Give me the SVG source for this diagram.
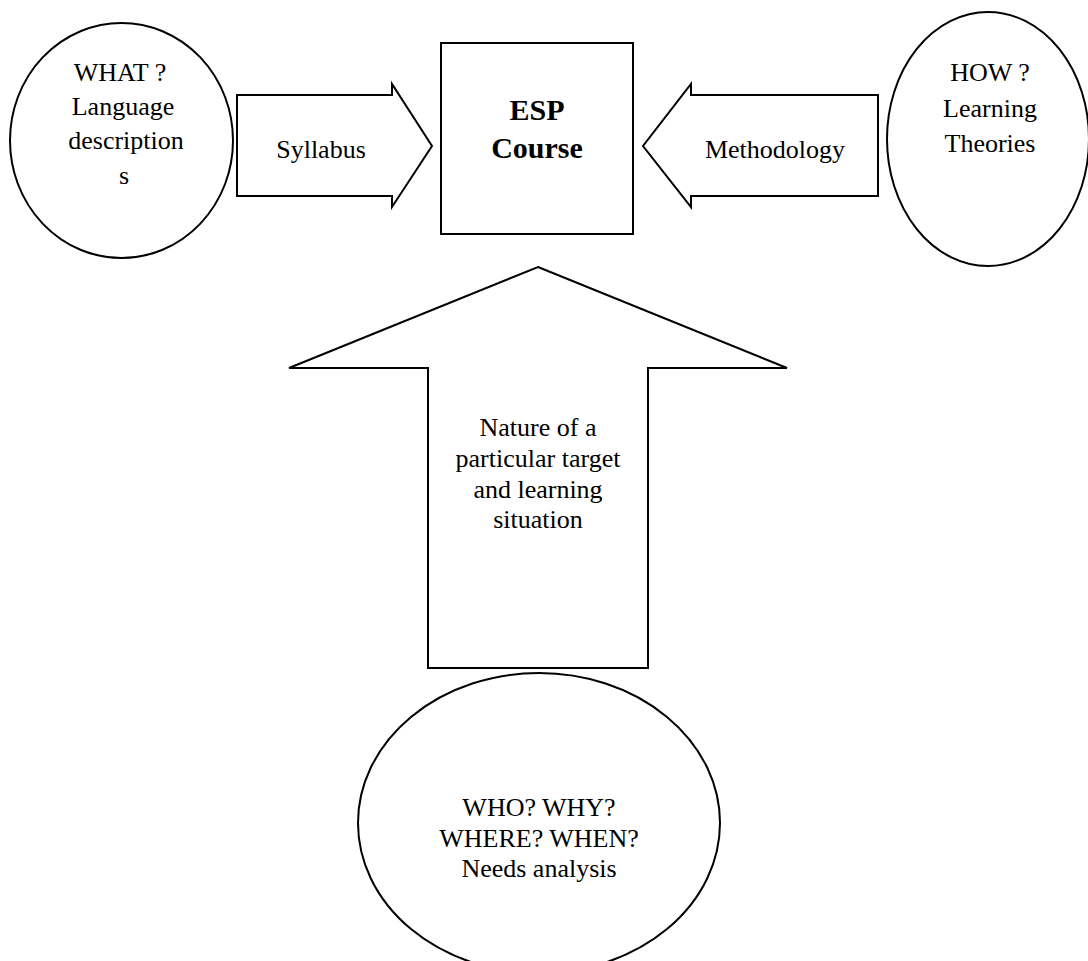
<svg xmlns="http://www.w3.org/2000/svg" width="1088" height="961" viewBox="0 0 1088 961">
<style>
.s{fill:#fff;stroke:#000;stroke-width:2;stroke-linejoin:miter}
.t{font-family:"Liberation Serif","Times New Roman",serif;font-size:26px;fill:#000;text-anchor:middle}
.b{font-weight:bold;font-size:30px}
</style>
<rect width="1088" height="961" fill="#fff"/>
<g id="connectors">
<g id="syllabus-arrow">
<polygon class="s" points="237,95 392,95 392,84 432,146 392,207 392,196 237,196"/>
<text class="t" x="321" y="158">Syllabus</text>
</g>
<g id="methodology-arrow">
<polygon class="s" points="878,95 691,95 691,84 643,146 691,207 691,196 878,196"/>
<text class="t" x="775" y="158">Methodology</text>
</g>
<g id="needs-arrow">
<polygon class="s" points="538,267 787,368 648,368 648,668 428,668 428,368 289,368"/>
<text class="t" x="538" y="436">Nature of a</text>
<text class="t" x="538" y="467">particular target</text>
<text class="t" x="538" y="498">and learning</text>
<text class="t" x="538" y="528">situation</text>
</g>
</g>
<g id="what">
<ellipse class="s" cx="121.5" cy="140.5" rx="111.5" ry="117.5"/>
<text class="t" x="120" y="81">WHAT ?</text>
<text class="t" x="123" y="115">Language</text>
<text class="t" x="126" y="149">description</text>
<text class="t" x="124" y="184">s</text>
</g>
<g id="esp">
<rect class="s" x="441" y="43" width="192" height="191"/>
<text class="t b" x="537" y="120">ESP</text>
<text class="t b" x="537" y="158">Course</text>
</g>
<g id="how">
<ellipse class="s" cx="988" cy="139" rx="101" ry="127"/>
<text class="t" x="990" y="81">HOW ?</text>
<text class="t" x="990" y="117">Learning</text>
<text class="t" x="990" y="152">Theories</text>
</g>
<g id="needs">
<ellipse class="s" cx="539" cy="823" rx="181" ry="150"/>
<text class="t" x="539" y="816">WHO? WHY?</text>
<text class="t" x="539" y="847">WHERE? WHEN?</text>
<text class="t" x="539" y="877">Needs analysis</text>
</g>
</svg>
